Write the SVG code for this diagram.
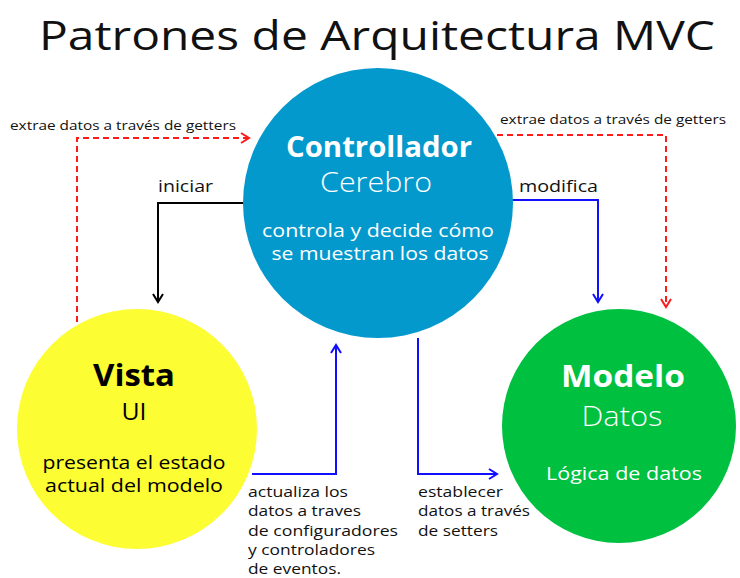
<svg xmlns="http://www.w3.org/2000/svg" width="740" height="578" viewBox="0 0 740 578">
<style>
text{font-family:"Open Sans","Liberation Sans",sans-serif;}
.lbl{font-size:15.5px;fill:#111;}
.ml{font-size:14px;fill:#111;}
.sm{font-size:13.5px;fill:#111;}
.c{text-anchor:middle;}
.w{fill:#fff;}
.k{fill:#000;}
.line{fill:none;stroke-width:2;}
</style>
<defs>
<marker id="aK" markerWidth="12" markerHeight="12" refX="10" refY="6" orient="auto" markerUnits="userSpaceOnUse"><path d="M2,1 L10,6 L2,11" fill="none" stroke="#000" stroke-width="2"/></marker>
<marker id="aB" markerWidth="12" markerHeight="12" refX="10" refY="6" orient="auto" markerUnits="userSpaceOnUse"><path d="M2,1 L10,6 L2,11" fill="none" stroke="#1010ff" stroke-width="2"/></marker>
<marker id="aR" markerWidth="12" markerHeight="12" refX="10" refY="6" orient="auto" markerUnits="userSpaceOnUse"><path d="M2,1 L10,6 L2,11" fill="none" stroke="#ff1a1a" stroke-width="2"/></marker>
</defs>
<rect width="740" height="578" fill="#fff"/>
<text x="377" y="50" class="c" font-size="40" fill="#111" textLength="676" lengthAdjust="spacingAndGlyphs">Patrones de Arquitectura MVC</text>

<g id="connectors">
<path class="line" d="M77,322 V138 H249" stroke="#ff1a1a" stroke-dasharray="6,4" marker-end="url(#aR)"/>
<path class="line" d="M497,135 H666 V307" stroke="#ff1a1a" stroke-dasharray="6,4" marker-end="url(#aR)"/>
<path class="line" d="M245,203 H158 V302" stroke="#000" marker-end="url(#aK)"/>
<path class="line" d="M511,200 H598 V302" stroke="#1010ff" marker-end="url(#aB)"/>
<path class="line" d="M252,474 H336 V345" stroke="#1010ff" marker-end="url(#aB)"/>
<path class="line" d="M418,338 V474 H497" stroke="#1010ff" marker-end="url(#aB)"/>
<text x="10" y="130" class="sm" textLength="226" lengthAdjust="spacingAndGlyphs">extrae datos a través de getters</text>
<text x="500" y="124" class="sm" textLength="226" lengthAdjust="spacingAndGlyphs">extrae datos a través de getters</text>
<text x="158" y="192" class="lbl" textLength="55" lengthAdjust="spacingAndGlyphs">iniciar</text>
<text x="519" y="192" class="lbl" textLength="79" lengthAdjust="spacingAndGlyphs">modifica</text>
<text class="ml" x="248" y="497" textLength="100" lengthAdjust="spacingAndGlyphs">actualiza los</text>
<text class="ml" x="248" y="516" textLength="113" lengthAdjust="spacingAndGlyphs">datos a traves</text>
<text class="ml" x="248" y="536" textLength="150" lengthAdjust="spacingAndGlyphs">de configuradores</text>
<text class="ml" x="248" y="555" textLength="127" lengthAdjust="spacingAndGlyphs">y controladores</text>
<text class="ml" x="248" y="574" textLength="93" lengthAdjust="spacingAndGlyphs">de eventos.</text>
<text class="ml" x="418" y="497" textLength="85" lengthAdjust="spacingAndGlyphs">establecer</text>
<text class="ml" x="418" y="516" textLength="112" lengthAdjust="spacingAndGlyphs">datos a través</text>
<text class="ml" x="418" y="536" textLength="80" lengthAdjust="spacingAndGlyphs">de setters</text>
</g>

<g id="controlador">
<circle cx="378" cy="203" r="135" fill="#0499cc"/>
<text x="379" y="157" class="c w" font-size="28" font-weight="bold" textLength="186" lengthAdjust="spacingAndGlyphs">Controllador</text>
<text x="376" y="192" class="c w" font-size="27" font-weight="300" textLength="112" lengthAdjust="spacingAndGlyphs">Cerebro</text>
<text x="378" y="237" class="c w" font-size="18" textLength="232" lengthAdjust="spacingAndGlyphs">controla y decide cómo</text>
<text x="380" y="260" class="c w" font-size="18" textLength="217" lengthAdjust="spacingAndGlyphs">se muestran los datos</text>
</g>

<g id="vista">
<circle cx="137" cy="429" r="120" fill="#fdfd33"/>
<text x="134" y="386" class="c k" font-size="30" font-weight="bold" textLength="82" lengthAdjust="spacingAndGlyphs">Vista</text>
<text x="134" y="420" class="c k" font-size="24" textLength="25" lengthAdjust="spacingAndGlyphs">UI</text>
<text x="134" y="469" class="c k" font-size="18" textLength="183" lengthAdjust="spacingAndGlyphs">presenta el estado</text>
<text x="134" y="492" class="c k" font-size="18" textLength="178" lengthAdjust="spacingAndGlyphs">actual del modelo</text>
</g>

<g id="modelo">
<circle cx="619" cy="426" r="117" fill="#00c040"/>
<text x="623" y="387" class="c w" font-size="31" font-weight="bold" textLength="124" lengthAdjust="spacingAndGlyphs">Modelo</text>
<text x="622" y="426" class="c w" font-size="28" font-weight="300" textLength="81" lengthAdjust="spacingAndGlyphs">Datos</text>
<text x="624" y="480" class="c w" font-size="18" textLength="156" lengthAdjust="spacingAndGlyphs">Lógica de datos</text>
</g>
</svg>
